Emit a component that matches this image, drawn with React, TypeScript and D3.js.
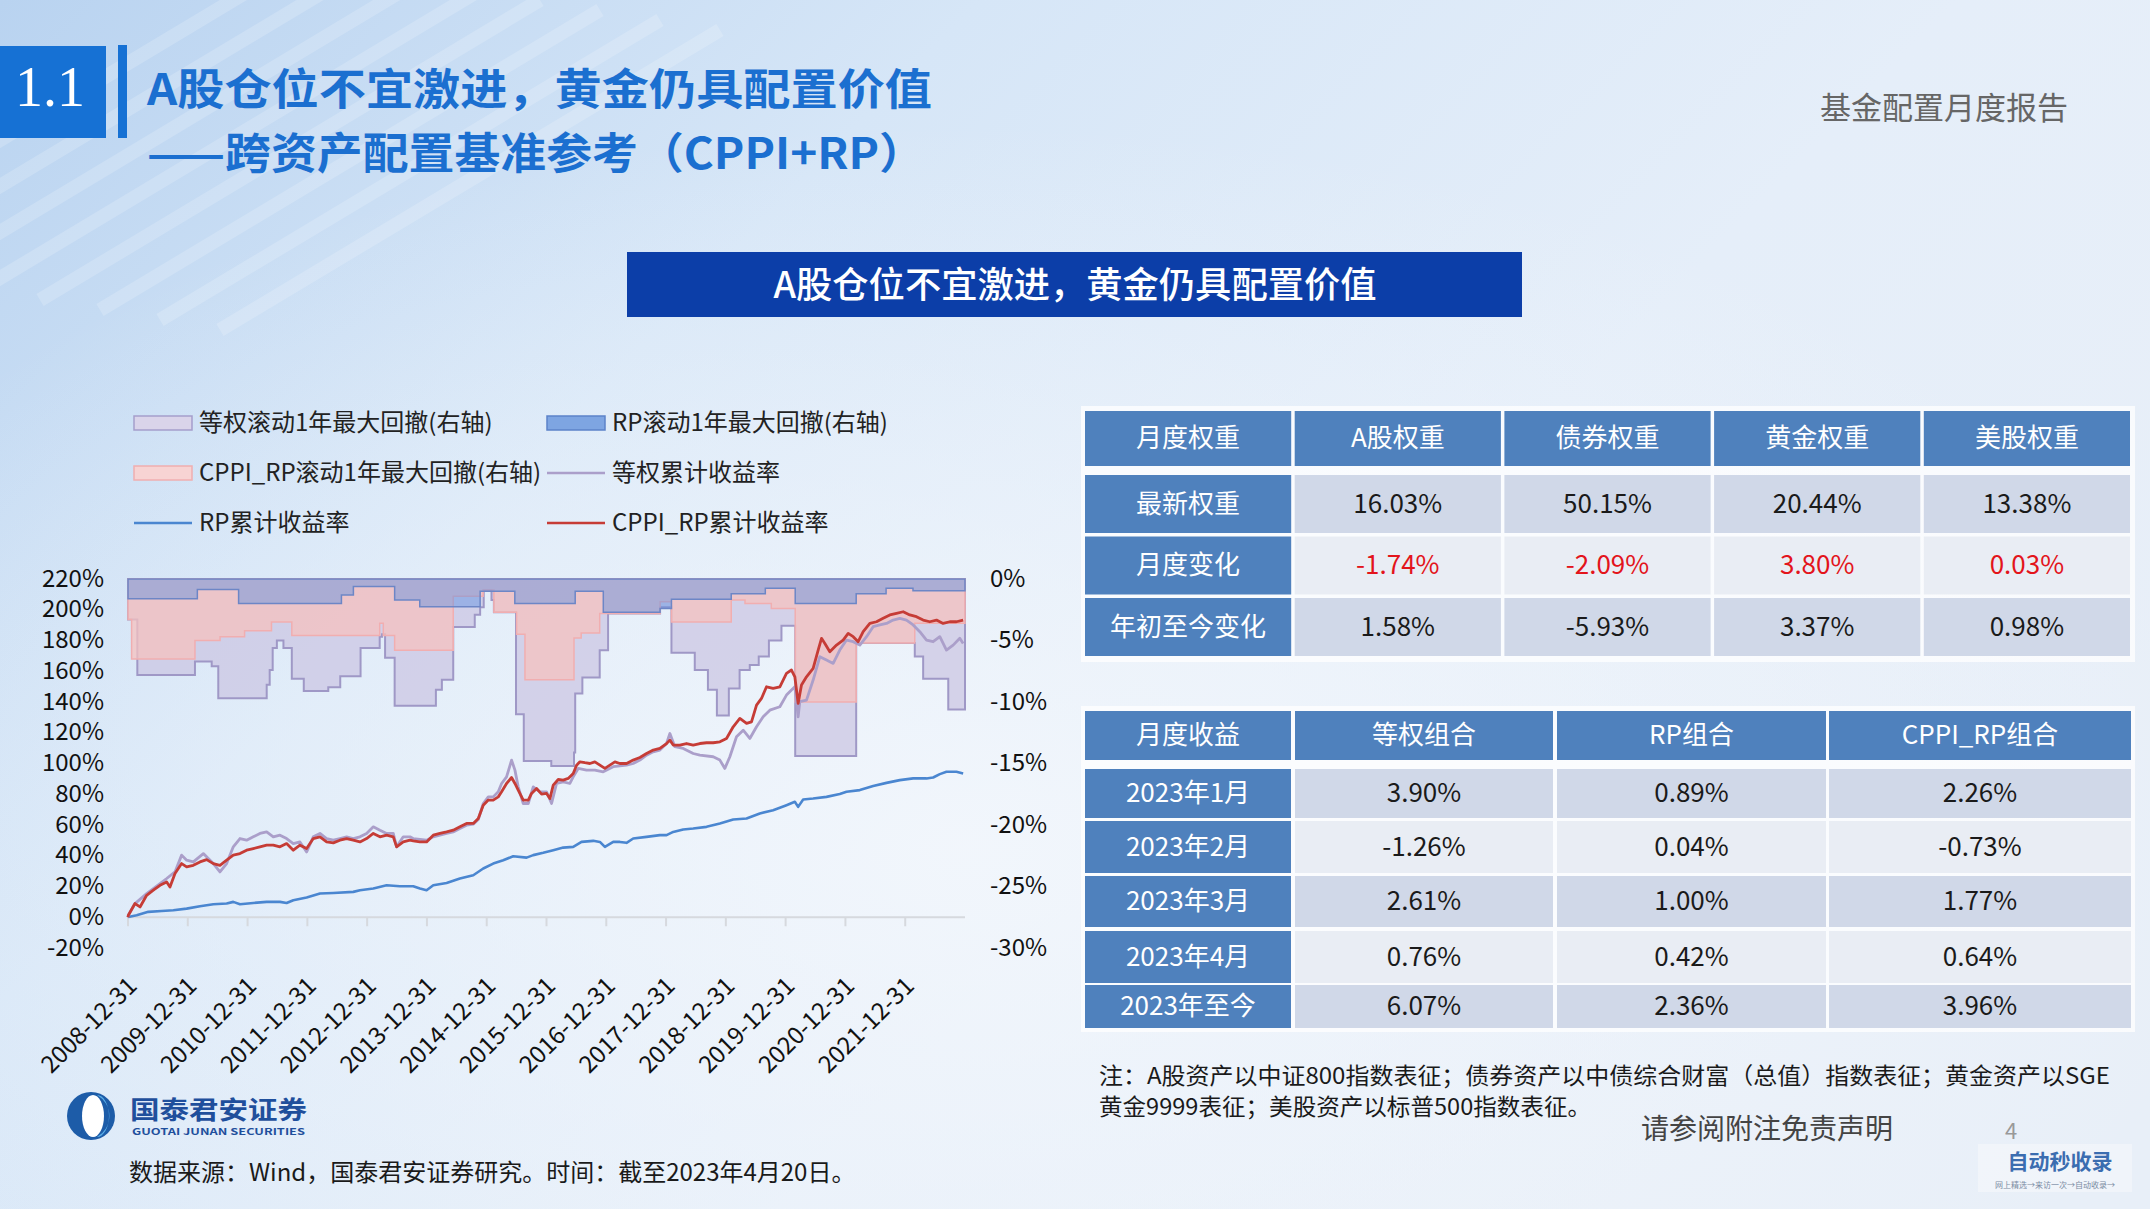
import React, { useEffect } from 'react';
import * as d3 from 'd3';

// ---------- DATA ----------
const xTickLabels = ['2008-12-31','2009-12-31','2010-12-31','2011-12-31','2012-12-31','2013-12-31','2014-12-31','2015-12-31','2016-12-31','2017-12-31','2018-12-31','2019-12-31','2020-12-31','2021-12-31'];
const leftTicks = [-20,0,20,40,60,80,100,120,140,160,180,200,220];
const rightTicks = [0,-5,-10,-15,-20,-25,-30];

// position t = years on the category axis since 2008-12-31, value in %
const cppiRpReturn: [number, number][] = [[0,0],[0.006,1.3],[0.117,8.9],[0.201,6.7],[0.312,14.3],[0.424,17.6],[0.535,20.8],[0.647,23.0],[0.702,19.7],[0.786,28.4],[0.897,34.9],[0.981,32.8],[1.093,33.8],[1.204,36.0],[1.315,37.5],[1.427,34.9],[1.538,33.8],[1.65,37.1],[1.761,40.4],[1.873,41.4],[1.984,43.6],[2.096,44.7],[2.207,45.8],[2.319,46.9],[2.43,46.9],[2.542,45.8],[2.653,47.9],[2.765,43.6],[2.876,46.9],[2.988,44.7],[3.099,51.2],[3.211,52.3],[3.322,49.0],[3.434,48.4],[3.545,50.1],[3.657,51.2],[3.768,50.1],[3.88,49.0],[3.991,51.2],[4.103,54.5],[4.214,52.3],[4.326,53.4],[4.437,52.3],[4.493,45.8],[4.604,49.0],[4.716,50.1],[4.771,49.7],[4.883,49.0],[4.994,49.0],[5.106,53.4],[5.217,54.5],[5.329,55.5],[5.44,56.6],[5.552,58.8],[5.663,61.0],[5.775,61.0],[5.859,64.2],[5.942,72.9],[6.026,76.2],[6.109,76.2],[6.193,78.3],[6.249,81.6],[6.332,87.0],[6.416,90.9],[6.472,87.0],[6.527,82.7],[6.611,76.2],[6.695,76.2],[6.75,80.5],[6.834,83.7],[6.918,80.1],[7.001,80.5],[7.057,77.2],[7.113,85.9],[7.196,89.6],[7.28,89.2],[7.363,90.3],[7.447,93.5],[7.503,98.9],[7.559,101.1],[7.642,100.5],[7.726,100.0],[7.809,101.1],[7.893,98.9],[7.977,96.8],[8.06,98.9],[8.144,101.1],[8.227,100.0],[8.339,100.0],[8.45,102.2],[8.562,103.9],[8.673,106.5],[8.785,108.7],[8.896,109.8],[9.008,113.0],[9.064,115.2],[9.119,112.0],[9.231,112.0],[9.342,113.0],[9.454,112.0],[9.565,113.0],[9.677,113.5],[9.788,113.5],[9.9,114.1],[10.011,116.3],[10.123,123.9],[10.234,129.3],[10.346,126.1],[10.429,127.1],[10.513,138.0],[10.596,142.3],[10.68,149.9],[10.791,148.8],[10.903,149.9],[11.014,158.6],[11.098,160.8],[11.154,156.4],[11.209,139.1],[11.265,151.0],[11.349,156.4],[11.46,161.9],[11.544,173.8],[11.6,181.4],[11.656,178.1],[11.739,172.7],[11.851,177.0],[11.962,180.3],[12.046,184.6],[12.13,182.5],[12.213,179.2],[12.297,185.7],[12.408,191.1],[12.52,192.2],[12.631,194.4],[12.743,196.6],[12.854,197.7],[12.966,198.7],[13.077,196.6],[13.188,195.5],[13.3,193.3],[13.411,192.2],[13.523,193.3],[13.634,191.1],[13.746,192.2],[13.857,192.2],[13.969,193.3]];

const ewReturn: [number, number][] = [[0,0],[0.006,1.3],[0.117,8.9],[0.312,15.4],[0.535,21.9],[0.647,25.2],[0.786,29.5],[0.897,40.4],[0.981,37.1],[1.093,36.0],[1.26,41.4],[1.427,34.9],[1.538,29.5],[1.65,34.9],[1.761,45.8],[1.873,51.2],[1.984,50.1],[2.096,52.3],[2.207,54.5],[2.319,55.5],[2.43,52.3],[2.542,53.4],[2.653,51.2],[2.765,47.9],[2.876,49.0],[2.988,42.5],[3.099,52.3],[3.211,54.5],[3.322,51.2],[3.434,50.1],[3.545,51.2],[3.657,52.3],[3.768,51.2],[3.88,52.3],[3.991,54.5],[4.103,58.8],[4.214,56.6],[4.326,54.5],[4.437,54.5],[4.493,45.8],[4.604,52.3],[4.716,52.3],[4.771,51.2],[4.883,50.6],[4.994,50.1],[5.106,52.3],[5.217,53.4],[5.329,54.5],[5.44,55.5],[5.552,57.7],[5.663,59.9],[5.775,60.5],[5.859,63.6],[5.942,74.0],[6.026,78.3],[6.109,78.3],[6.193,81.6],[6.249,87.0],[6.332,91.3],[6.416,102.2],[6.472,95.7],[6.527,84.8],[6.611,74.0],[6.695,74.0],[6.778,84.8],[6.89,81.6],[7.001,81.6],[7.085,74.0],[7.168,87.0],[7.28,88.1],[7.391,87.0],[7.447,91.3],[7.531,96.8],[7.67,95.7],[7.809,95.7],[7.949,94.6],[8.116,97.9],[8.339,98.9],[8.45,100.0],[8.562,102.2],[8.673,105.4],[8.785,107.6],[8.896,108.7],[9.008,113.0],[9.064,119.5],[9.147,110.9],[9.287,109.8],[9.454,106.5],[9.565,105.4],[9.788,104.4],[9.9,102.2],[9.983,96.8],[10.067,104.4],[10.178,117.4],[10.29,121.7],[10.401,116.3],[10.513,123.9],[10.624,130.4],[10.736,134.7],[10.903,136.9],[11.014,144.5],[11.098,147.8],[11.154,149.9],[11.209,130.4],[11.237,140.2],[11.349,141.2],[11.46,154.3],[11.572,169.5],[11.683,167.3],[11.795,165.1],[11.906,173.8],[12.018,180.3],[12.13,179.2],[12.241,177.0],[12.353,182.5],[12.464,189.0],[12.576,190.1],[12.687,191.1],[12.798,193.3],[12.91,194.4],[13.021,193.3],[13.133,190.1],[13.244,185.7],[13.356,180.3],[13.467,179.2],[13.579,182.5],[13.69,173.8],[13.802,177.0],[13.913,181.4],[13.969,178.1]];

const rpReturn: [number, number][] = [[0,0],[0.006,0.2],[0.145,1.3],[0.34,3.5],[0.563,4.1],[0.758,4.6],[0.981,5.6],[1.204,7.2],[1.427,8.5],[1.65,8.9],[1.761,10.0],[1.873,8.5],[2.096,9.3],[2.319,10.0],[2.542,10.0],[2.653,9.3],[2.765,11.1],[2.988,12.8],[3.211,15.4],[3.434,15.8],[3.768,16.5],[3.88,17.6],[4.103,18.7],[4.326,20.8],[4.548,20.2],[4.771,20.2],[4.883,18.7],[4.994,17.6],[5.106,20.8],[5.329,22.3],[5.552,25.2],[5.775,27.3],[5.942,31.7],[6.109,34.9],[6.276,37.1],[6.443,39.7],[6.667,38.8],[6.778,40.4],[6.945,41.9],[7.113,43.6],[7.28,45.3],[7.447,45.8],[7.586,49.0],[7.782,49.7],[7.893,49.0],[7.977,45.8],[8.116,49.0],[8.227,49.0],[8.339,48.4],[8.45,51.2],[8.673,52.3],[8.896,53.4],[9.008,53.4],[9.119,55.5],[9.287,57.1],[9.454,57.7],[9.677,58.8],[9.9,61.0],[10.123,63.6],[10.346,64.2],[10.568,67.5],[10.791,69.6],[11.014,72.9],[11.154,75.1],[11.209,71.8],[11.293,76.6],[11.46,77.2],[11.683,78.3],[11.906,80.1],[12.018,81.6],[12.241,82.7],[12.464,85.3],[12.687,87.4],[12.91,89.2],[13.133,90.3],[13.356,90.3],[13.467,90.9],[13.579,93.1],[13.69,94.6],[13.857,94.6],[13.969,93.5]];

// rolling 1y max drawdown (right axis), step values starting at t
const ewDrawdown: [number, number][] = [[0,-3.3],[0.156,-7.8],[1.12,-6.7],[1.40,-7.1],[1.51,-9.7],[2.32,-8.6],[2.37,-7.4],[2.42,-5.6],[2.49,-5.0],[2.60,-5.6],[2.74,-8.1],[2.94,-9.1],[3.35,-8.8],[3.55,-7.9],[3.89,-5.6],[4.21,-4.7],[4.25,-4.5],[4.30,-6.4],[4.46,-10.3],[5.15,-9.0],[5.25,-8.2],[5.44,-3.9],[5.80,-2.9],[5.89,-2.3],[5.95,-0.9],[6.08,-1.7],[6.12,-2.7],[6.49,-11.0],[6.62,-14.8],[7.08,-15.2],[7.46,-14.1],[7.48,-9.3],[7.60,-8.0],[7.89,-5.8],[8.03,-2.8],[8.90,-2.3],[9.09,-6.0],[9.48,-7.4],[9.70,-9.0],[9.85,-11.1],[10.05,-8.9],[10.23,-7.4],[10.40,-7.0],[10.55,-6.3],[10.72,-5.0],[10.93,-3.8],[11.16,-14.4],[12.18,-5.2],[13.16,-6.3],[13.30,-8.1],[13.72,-10.6],[14,-10.6]];
const cppiRpDrawdown: [number, number][] = [[0,-3.3],[0.06,-6.5],[1.12,-5.0],[1.54,-4.7],[1.95,-4.2],[2.40,-3.5],[2.74,-4.6],[4.21,-3.6],[4.27,-4.6],[4.46,-5.8],[5.44,-1.4],[5.94,-0.9],[6.12,-2.7],[6.50,-4.5],[6.64,-8.2],[7.46,-4.8],[7.58,-4.4],[7.89,-2.8],[8.90,-1.85],[9.09,-3.5],[10.09,-1.7],[10.32,-2.0],[10.76,-2.4],[11.16,-10.0],[12.18,-5.2],[13.16,-3.6],[14,-3.6]];
const rpDrawdown: [number, number][] = [[0,-1.6],[1.16,-0.85],[1.85,-2.0],[3.57,-1.3],[3.77,-0.6],[4.46,-1.7],[4.88,-2.25],[5.89,-1.0],[6.47,-2.0],[7.48,-1.0],[7.95,-2.7],[8.90,-2.4],[9.09,-1.65],[10.09,-1.2],[10.66,-0.76],[11.16,-2.0],[12.18,-1.2],[12.68,-0.76],[13.13,-0.95],[14,-0.95]];

// tables
const weightHeaders = ['月度权重','A股权重','债券权重','黄金权重','美股权重'];
const weightRowLabels = ['最新权重','月度变化','年初至今变化'];
const latestWeights = ['16.03%','50.15%','20.44%','13.38%'];
const monthlyChange = ['-1.74%','-2.09%','3.80%','0.03%'];
const ytdChange = ['1.58%','-5.93%','3.37%','0.98%'];

const returnHeaders = ['月度收益','等权组合','RP组合','CPPI_RP组合'];
const returnRowLabels = ['2023年1月','2023年2月','2023年3月','2023年4月','2023年至今'];
const ewMonthly = ['3.90%','-1.26%','2.61%','0.76%','6.07%'];
const rpMonthly = ['0.89%','0.04%','1.00%','0.42%','2.36%'];
const cppiRpMonthly = ['2.26%','-0.73%','1.77%','0.64%','3.96%'];

// ---------- STYLE ----------
const F = "'Noto Sans CJK SC','Noto Sans',sans-serif";
const DY = -3;
const C = {
  title: '#1b6fd0', banner: '#0c3ea8', head: '#4f81bd', rowA: '#d0d8e8', rowB: '#e9edf4',
  ewFill: '#cbc5e2', ewStroke: '#9f98c6', cppiFill: '#f6c1bf', cppiStroke: '#f1aeb0',
  rpFill: '#5b8ee0', rpStroke: '#6d86c6', ewLine: '#ab9fca', rpLine: '#4a86d0', cppiLine: '#c63c36',
};

export default function App() {
  useEffect(() => { document.body.style.margin = '0'; }, []);

  const x = d3.scaleLinear().domain([0, 14]).range([128, 965]);
  const yL = d3.scaleLinear().domain([-20, 220]).range([948, 579]);
  const yR = d3.scaleLinear().domain([-30, 0]).range([948, 579]);

  const area = d3.area<[number, number]>().x(d => x(d[0])).y0(yR(0)).y1(d => yR(d[1])).curve(d3.curveStepAfter);
  const line = d3.line<[number, number]>().x(d => x(d[0])).y(d => yL(d[1]));

  const ticks = d3.range(xTickLabels.length);

  // table 1 layout
  const t1x = 1085, t1w = 206.2, t1p = 209.7;
  const t1HeadY = 411, t1HeadH = 55, t1RowY = 475, t1RowH = 58, t1RowP = 61.5;
  const t1Body = [latestWeights, monthlyChange, ytdChange];
  // table 2 layout
  const t2cols = [[1085, 206], [1295, 258], [1557, 269], [1829, 302]];
  const t2Head = [711, 49];
  const t2Rows = [[769, 49], [821, 52], [876, 51], [931, 52], [985, 43]];
  const t2Body = returnRowLabels.map((_, i) => [ewMonthly[i], rpMonthly[i], cppiRpMonthly[i]]);

  const legend = [
    { kind: 'rect', x: 134, y: 423, label: '等权滚动1年最大回撤(右轴)', fill: '#dad4ea', stroke: '#a59ecb' },
    { kind: 'rect', x: 547, y: 423, label: 'RP滚动1年最大回撤(右轴)', fill: '#7ea5e2', stroke: '#5c83c9' },
    { kind: 'rect', x: 134, y: 473, label: 'CPPI_RP滚动1年最大回撤(右轴)', fill: '#f7d3d3', stroke: '#f0aeb0' },
    { kind: 'line', x: 547, y: 473, label: '等权累计收益率', stroke: C.ewLine },
    { kind: 'line', x: 134, y: 523, label: 'RP累计收益率', stroke: C.rpLine },
    { kind: 'line', x: 547, y: 523, label: 'CPPI_RP累计收益率', stroke: C.cppiLine },
  ];

  return (
    <svg width={2150} height={1209} style={{ position: 'absolute', left: 0, top: 0, fontFamily: F }}>
      <defs>
        <linearGradient id="bg" x1="0" y1="0" x2="1" y2="0.55">
          <stop offset="0" stopColor="#b9d3f0" />
          <stop offset="0.35" stopColor="#d6e6f7" />
          <stop offset="0.7" stopColor="#e5eef9" />
          <stop offset="1" stopColor="#e8eff8" />
        </linearGradient>
        <radialGradient id="glow" cx="0.45" cy="0.7" r="0.6">
          <stop offset="0" stopColor="#f3f7fc" stopOpacity="0.9" />
          <stop offset="1" stopColor="#f3f7fc" stopOpacity="0" />
        </radialGradient>
      </defs>
      <rect width={2150} height={1209} fill="url(#bg)" />
      <rect width={2150} height={1209} fill="url(#glow)" />
      {d3.range(8).map(i => (
        <path key={i} d={`M${-200 + i * 60},${260 + i * 10} L${300 + i * 60},${-40 + i * 10}`} stroke="#ffffff" strokeOpacity={0.18} strokeWidth={14} />
      ))}

      {/* header */}
      <rect x={0} y={46} width={106} height={92} fill="#1671d4" />
      <text x={50} y={90} dy={DY} fill="#fff" fontSize={56} textAnchor="middle" dominantBaseline="central" fontFamily="'Liberation Serif',serif">1.1</text>
      <rect x={118} y={45} width={9} height={93} fill="#1671d4" />
      <text x={147} y={89} dy={DY} fill={C.title} fontSize={43} fontWeight={700} dominantBaseline="central" textLength={785} lengthAdjust="spacingAndGlyphs">A股仓位不宜激进，黄金仍具配置价值</text>
      <text x={147} y={153} dy={DY} fill={C.title} fontSize={43} fontWeight={700} dominantBaseline="central" textLength={778} lengthAdjust="spacingAndGlyphs">——跨资产配置基准参考（CPPI+RP）</text>
      <text x={2068} y={108} dy={DY} fill="#666" fontSize={31} textAnchor="end" dominantBaseline="central">基金配置月度报告</text>

      <rect x={627} y={252} width={895} height={65} fill={C.banner} />
      <text x={1075} y={285} dy={DY} fill="#fff" fontSize={36} fontWeight={500} textAnchor="middle" dominantBaseline="central" textLength={603} lengthAdjust="spacingAndGlyphs">A股仓位不宜激进，黄金仍具配置价值</text>

      {/* legend */}
      {legend.map((l, i) => (
        <g key={i}>
          {l.kind === 'rect'
            ? <rect x={l.x} y={l.y - 7} width={58} height={14} fill={l.fill} stroke={l.stroke} strokeWidth={1.5} />
            : <line x1={l.x} x2={l.x + 58} y1={l.y} y2={l.y} stroke={l.stroke} strokeWidth={2.5} />}
          <text x={l.x + 65} y={l.y} dy={DY} fontSize={24} fill="#222" dominantBaseline="central">{l.label}</text>
        </g>
      ))}

      {/* chart: drawdown areas (right axis) */}
      <path d={area(ewDrawdown) || ''} fill={C.ewFill} fillOpacity={0.72} stroke={C.ewStroke} strokeWidth={2} />
      <path d={area(cppiRpDrawdown) || ''} fill={C.cppiFill} fillOpacity={0.75} stroke={C.cppiStroke} strokeWidth={1.5} />
      <path d={area(rpDrawdown) || ''} fill={C.rpFill} fillOpacity={0.45} stroke={C.rpStroke} strokeWidth={1.5} />

      {/* x axis */}
      <line x1={x(0)} x2={x(14)} y1={yL(0)} y2={yL(0)} stroke="#d6d9de" strokeWidth={2} />
      {ticks.map(i => (
        <line key={i} x1={x(i)} x2={x(i)} y1={yL(0)} y2={yL(0) + 9} stroke="#d6d9de" strokeWidth={2} />
      ))}
      {ticks.map(i => (
        <text key={i} transform={`translate(${x(i) + 3},${980}) rotate(-45)`} fontSize={24} fill="#111" textAnchor="end" dominantBaseline="central">{xTickLabels[i]}</text>
      ))}

      {/* lines */}
      <path d={line(rpReturn) || ''} fill="none" stroke={C.rpLine} strokeWidth={2.6} strokeLinejoin="round" />
      <path d={line(ewReturn) || ''} fill="none" stroke={C.ewLine} strokeWidth={2.8} strokeLinejoin="round" />
      <path d={line(cppiRpReturn) || ''} fill="none" stroke={C.cppiLine} strokeWidth={2.8} strokeLinejoin="round" />

      {/* y axes labels */}
      {leftTicks.map(v => (
        <text key={v} x={104} y={yL(v)} dy={DY} fontSize={24} fill="#111" textAnchor="end" dominantBaseline="central">{v}%</text>
      ))}
      {rightTicks.map(v => (
        <text key={v} x={990} y={yR(v)} dy={DY} fontSize={24} fill="#111" dominantBaseline="central">{v}%</text>
      ))}

      {/* table 1 */}
      <rect x={1081} y={406} width={1054} height={256} fill="#fff" fillOpacity={0.75} />
      {weightHeaders.map((h, c) => (
        <g key={c}>
          <rect x={t1x + c * t1p} y={t1HeadY} width={t1w} height={t1HeadH} fill={C.head} />
          <text x={t1x + c * t1p + t1w / 2} y={t1HeadY + t1HeadH / 2} dy={DY} fill="#fff" fontSize={26} textAnchor="middle" dominantBaseline="central">{h}</text>
        </g>
      ))}
      {weightRowLabels.map((lab, r) => (
        <g key={r}>
          <rect x={t1x} y={t1RowY + r * t1RowP} width={t1w} height={t1RowH} fill={C.head} />
          <text x={t1x + t1w / 2} y={t1RowY + r * t1RowP + t1RowH / 2} dy={DY} fill="#fff" fontSize={26} textAnchor="middle" dominantBaseline="central">{lab}</text>
          {t1Body[r].map((v, c) => (
            <g key={c}>
              <rect x={t1x + (c + 1) * t1p} y={t1RowY + r * t1RowP} width={t1w} height={t1RowH} fill={r === 1 ? C.rowB : C.rowA} />
              <text x={t1x + (c + 1) * t1p + t1w / 2} y={t1RowY + r * t1RowP + t1RowH / 2} dy={DY} fill={r === 1 ? '#e3141b' : '#1a1a1a'} fontSize={26} textAnchor="middle" dominantBaseline="central">{v}</text>
            </g>
          ))}
        </g>
      ))}

      {/* table 2 */}
      <rect x={1081} y={706} width={1054} height={326} fill="#fff" fillOpacity={0.75} />
      {returnHeaders.map((h, c) => (
        <g key={c}>
          <rect x={t2cols[c][0]} y={t2Head[0]} width={t2cols[c][1]} height={t2Head[1]} fill={C.head} />
          <text x={t2cols[c][0] + t2cols[c][1] / 2} y={t2Head[0] + t2Head[1] / 2} dy={DY} fill="#fff" fontSize={26} textAnchor="middle" dominantBaseline="central">{h}</text>
        </g>
      ))}
      {returnRowLabels.map((lab, r) => (
        <g key={r}>
          <rect x={t2cols[0][0]} y={t2Rows[r][0]} width={t2cols[0][1]} height={t2Rows[r][1]} fill={C.head} />
          <text x={t2cols[0][0] + t2cols[0][1] / 2} y={t2Rows[r][0] + t2Rows[r][1] / 2} dy={DY} fill="#fff" fontSize={26} textAnchor="middle" dominantBaseline="central">{lab}</text>
          {t2Body[r].map((v, c) => (
            <g key={c}>
              <rect x={t2cols[c + 1][0]} y={t2Rows[r][0]} width={t2cols[c + 1][1]} height={t2Rows[r][1]} fill={r % 2 === 1 ? C.rowB : C.rowA} />
              <text x={t2cols[c + 1][0] + t2cols[c + 1][1] / 2} y={t2Rows[r][0] + t2Rows[r][1] / 2} dy={DY} fill="#1a1a1a" fontSize={26} textAnchor="middle" dominantBaseline="central">{v}</text>
            </g>
          ))}
        </g>
      ))}

      {/* notes */}
      <text x={1099} y={1077} dy={DY} fontSize={23} fill="#1a1a1a" dominantBaseline="central" textLength={1011} lengthAdjust="spacingAndGlyphs">注：A股资产以中证800指数表征；债券资产以中债综合财富（总值）指数表征；黄金资产以SGE</text>
      <text x={1099} y={1108} dy={DY} fontSize={23} fill="#1a1a1a" dominantBaseline="central" textLength={492} lengthAdjust="spacingAndGlyphs">黄金9999表征；美股资产以标普500指数表征。</text>
      <text x={1641} y={1130} dy={DY} fontSize={28} fill="#444" dominantBaseline="central">请参阅附注免责声明</text>
      <text x={2011} y={1132} dy={DY} fontSize={22} fill="#999" textAnchor="middle" dominantBaseline="central">4</text>
      <rect x={1978} y={1144} width={154} height={48} fill="#f4f7fb" fillOpacity={0.7} />
      <text x={2060} y={1163} dy={DY} fontSize={21} fontWeight={700} fill="#3b6db0" textAnchor="middle" dominantBaseline="central">自动秒收录</text>
      <text x={2055} y={1184} fontSize={8} fill="#7a8ba3" textAnchor="middle" dominantBaseline="central">网上精选→来访一次→自动收录→</text>

      {/* logo + source */}
      <circle cx={91} cy={1116} r={24} fill="#1d5ca8" />
      <ellipse cx={93} cy={1116} rx={11} ry={21} fill="#ffffff" />
      <path d="M97,1095 A24,24 0 0 1 97,1137 A12,21 0 0 0 97,1095 Z" fill="#5aaee8" />
      <text x={130} y={1111} dy={DY} fontSize={25} fontWeight={700} fill="#1f4f9c" dominantBaseline="central" textLength={177} lengthAdjust="spacingAndGlyphs">国泰君安证券</text>
      <text x={132} y={1131} fontSize={9} fontWeight={700} fill="#1f4f9c" dominantBaseline="central" textLength={173} lengthAdjust="spacingAndGlyphs">GUOTAI JUNAN SECURITIES</text>
      <text x={129} y={1173} dy={DY} fontSize={24} fill="#1a1a1a" dominantBaseline="central">数据来源：Wind，国泰君安证券研究。时间：截至2023年4月20日。</text>
    </svg>
  );
}
